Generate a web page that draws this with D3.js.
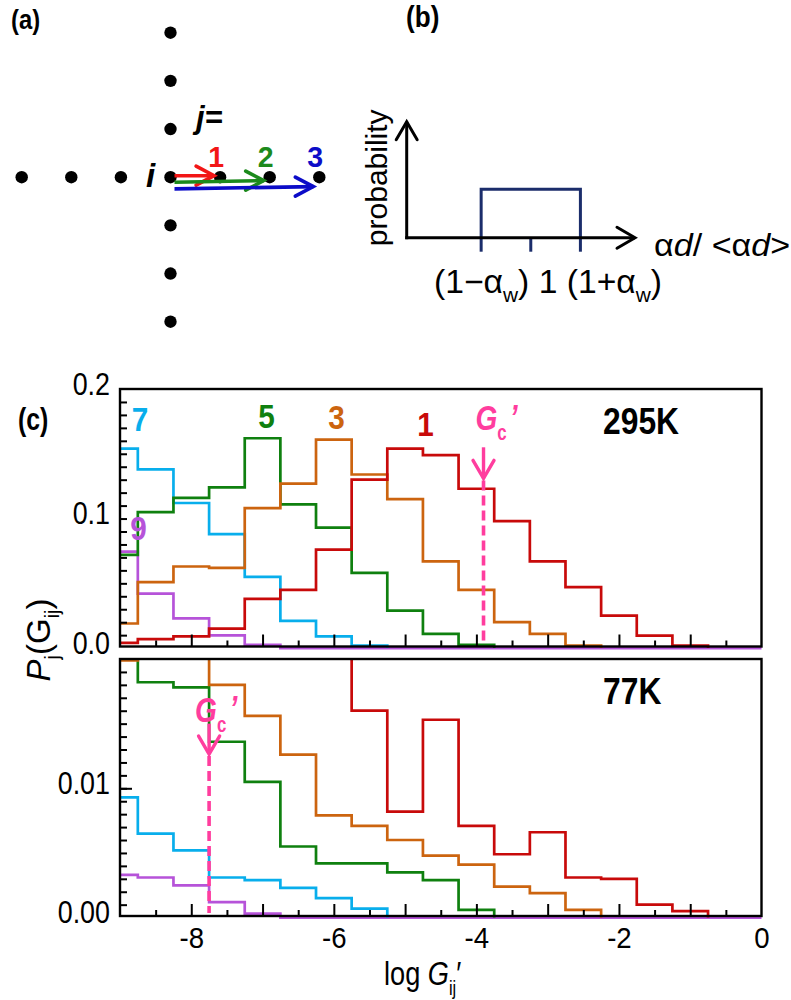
<!DOCTYPE html>
<html>
<head>
<meta charset="utf-8">
<script src="https://cdn.jsdelivr.net/npm/d3@7"></script>
<style>
  body { margin: 0; background: #fff; }
  svg text { font-family: "Liberation Sans", Arial, Helvetica, sans-serif; }
</style>
</head>
<body>
<svg id="fig" width="791" height="1000"></svg>
<script>
// ---------- data ----------
// histogram bin centres (log G'), bins are 0.5 wide
const logG = [-9, -8.5, -8, -7.5, -7, -6.5, -6, -5.5, -5, -4.5, -4, -3.5, -3, -2.5, -2, -1.5, -1, -0.5, 0];

// P_j(G_ij) at 295 K
const p295_j1 = [0.004, 0.007, 0.009, 0.015, 0.038, 0.045, 0.076, 0.130, 0.154, 0.149, 0.123, 0.098, 0.067, 0.047, 0.025, 0.0096, 0.002];
const p295_j3 = [0.019, 0.051, 0.063, 0.062, 0.108, 0.127, 0.161, 0.134, 0.115, 0.067, 0.045, 0.020, 0.011, 0.002];
const p295_j5 = [0.072, 0.105, 0.116, 0.124, 0.162, 0.111, 0.093, 0.058, 0.029, 0.011, 0.0026];
const p295_j7 = [0.154, 0.138, 0.112, 0.088, 0.055, 0.021, 0.009, 0.002];
const p295_j9 = [0.0745, 0.042, 0.023, 0.0098, 0.0026, 0, 0, 0, 0, 0, 0, 0, 0, 0, 0, 0, 0, 0, 0];

// P_j(G_ij) at 77 K (bins above 0.02 run off the top of the panel)
const p77_j1 = [0.03, 0.03, 0.03, 0.03, 0.03, 0.03, 0.025, 0.016, 0.0082, 0.0153, 0.0071, 0.0049, 0.0066, 0.0031, 0.0030, 0.0010, 0.0005];
const p77_j3 = [0.0199, 0.025, 0.025, 0.0180, 0.0156, 0.0126, 0.0079, 0.0071, 0.0060, 0.0048, 0.0041, 0.0024, 0.0019, 0.0006];
const p77_j5 = [0.025, 0.0182, 0.0178, 0.0136, 0.0105, 0.0055, 0.0042, 0.0042, 0.0035, 0.0029, 0.0006];
const p77_j7 = [0.0093, 0.0065, 0.0052, 0.0031, 0.0029, 0.0023, 0.0015, 0.0007];
const p77_j9 = [0.0033, 0.0031, 0.0025, 0.0012, 0.0003, 0, 0, 0, 0, 0, 0, 0, 0, 0, 0, 0, 0, 0, 0];

const neighbourOrder = [1, 3, 5, 7, 9];
const seriesColor = { 1: "#c80a0a", 3: "#cc640f", 5: "#0f800f", 7: "#08aeec", 9: "#b653d9" };

// cutoff conductance G_c'
const gc295 = -3.9;
const gc77 = -7.75;

// axis ticks
const xMajor = [-8, -7, -6, -5, -4, -3, -2, -1];
const xMinor = [-8.5, -7.5, -6.5, -5.5, -4.5, -3.5, -2.5, -1.5, -0.5];
const xLabels = [-8, -6, -4, -2, 0];
const yLabels295 = [0, 0.1, 0.2];
const yLabels77 = [0, 0.01];

// lattice of panel (a)
const latticeSites = [-3, -2, -1, 0, 1, 2, 3];
const shownNeighbours = [1, 2, 3];
const latticeColor = { 1: "#f21616", 2: "#1c8a1c", 3: "#0c0cc8" };

// uniform distribution of panel (b)
const alphaW = 0.4;

// ---------- helpers ----------
const svg = d3.select("#fig");
const PINK = "#ff3d9e";

function txt(parent, x, y, parts, o) {
  const g = parent.append("g")
    .attr("transform", `translate(${x},${y})` + (o.rotate ? ` rotate(${o.rotate})` : "") + ` scale(${o.sx || 1},1)`);
  const t = g.append("text")
    .attr("font-size", o.size)
    .attr("font-weight", o.weight || "normal")
    .attr("font-style", o.style || "normal")
    .attr("fill", o.fill || "#000")
    .attr("text-anchor", o.anchor || "start");
  let shift = 0;
  parts.forEach(p => {
    if (typeof p === "string") p = { t: p };
    const target = p.sub ? o.size * 0.28 : (p.up ? -o.size * 0.05 : 0);
    const ts = t.append("tspan").text(p.t).attr("dy", target - shift);
    shift = target;
    if (p.italic) ts.attr("font-style", "italic");
    if (p.upright) ts.attr("font-style", "normal");
    if (p.sub) ts.attr("font-size", o.size * (p.scale || 0.62));
    if (p.dx) ts.attr("dx", p.dx);
  });
  return t;
}

function chevron(parent, tipX, tipY, dir, len, half, color, width) {
  // open arrow head pointing along dir ("right", "up", "down")
  let pts;
  if (dir === "right") pts = [[tipX - len, tipY - half], [tipX, tipY], [tipX - len, tipY + half]];
  if (dir === "up") pts = [[tipX - half, tipY + len], [tipX, tipY], [tipX + half, tipY + len]];
  if (dir === "down") pts = [[tipX - half, tipY - len], [tipX, tipY], [tipX + half, tipY - len]];
  parent.append("path").attr("d", d3.line()(pts))
    .attr("fill", "none").attr("stroke", color).attr("stroke-width", width)
    .attr("stroke-linecap", "round").attr("stroke-linejoin", "miter");
}

// ---------- panel (a): lattice ----------
const pa = svg.append("g");
txt(pa, 11, 29, ["(a)"], { size: 28, weight: "bold", sx: 0.85 });

const lx = d3.scaleLinear([-3, 3], [21.7, 319.3]);
const ly = d3.scaleLinear([-3, 3], [32.7, 321.7]);

const sites = latticeSites.map(k => ({ x: lx(k), y: ly(0) }))
  .concat(latticeSites.filter(k => k !== 0).map(k => ({ x: lx(0), y: ly(k) })));
pa.selectAll("circle.site").data(sites).join("circle")
  .attr("class", "site").attr("cx", d => d.x).attr("cy", d => d.y).attr("r", 6.2).attr("fill", "#000");

txt(pa, 146, 186.5, ["i"], { size: 33, weight: "bold", style: "italic" });
txt(pa, 196, 128, ["j="], { size: 31, weight: "bold", style: "italic" });

const arrowRise = { 1: [-1.5, -1.5], 2: [5, 3.4], 3: [11.7, 9.4] };
shownNeighbours.forEach(j => {
  const c = latticeColor[j];
  const x0 = lx(0) + 4, x1 = lx(j) - 6;
  const y0 = ly(0) + arrowRise[j][0], y1 = ly(0) + arrowRise[j][1];
  pa.append("line").attr("x1", x0).attr("y1", y0).attr("x2", x1).attr("y2", y1)
    .attr("stroke", c).attr("stroke-width", 3.6);
  chevron(pa, x1, y1, "right", 18, 9.5, c, 3.6);
  txt(pa, lx(j) - 4, 167, [String(j)], { size: 30, weight: "bold", fill: c, anchor: "middle", sx: 0.95 });
});

// ---------- panel (b): width distribution ----------
const pb = svg.append("g");
txt(pb, 406, 27, ["(b)"], { size: 30, weight: "bold", sx: 0.87 });

const bx = d3.scaleLinear([0, 1.84], [406.7, 635]);
const by = d3.scaleLinear([0, 3], [237.7, 121.7]);
const density = 1 / (2 * alphaW);

pb.append("path")
  .attr("d", `M${bx(1 - alphaW)},${by(0)}V${by(density)}H${bx(1 + alphaW)}V${by(0)}`)
  .attr("fill", "none").attr("stroke", "#1b2d6b").attr("stroke-width", 3);
pb.selectAll("line.btick").data([1 - alphaW, 1, 1 + alphaW]).join("line")
  .attr("class", "btick")
  .attr("x1", d => bx(d)).attr("x2", d => bx(d))
  .attr("y1", by(0)).attr("y2", by(0) + 14)
  .attr("stroke", "#1b2d6b").attr("stroke-width", 3);

pb.append("line").attr("x1", bx(0)).attr("y1", by(0) + 1.5).attr("x2", bx(0)).attr("y2", by(3))
  .attr("stroke", "#000").attr("stroke-width", 3);
chevron(pb, bx(0), by(3), "up", 18, 10.5, "#000", 3);
pb.append("line").attr("x1", bx(0) - 1.5).attr("y1", by(0)).attr("x2", bx(1.84)).attr("y2", by(0))
  .attr("stroke", "#000").attr("stroke-width", 3);
chevron(pb, bx(1.84), by(0), "right", 18, 10.5, "#000", 3);

txt(pb, 386.5, by(1.55), ["probability"], { size: 30, anchor: "middle", rotate: -90 });
txt(pb, 654, 256, ["α", { t: "d", italic: true }, "/ <α", { t: "d", italic: true }, ">"], { size: 31, sx: 1.1 });
txt(pb, 434, 293, ["(1−α", { t: "w", sub: true }, ")", " 1 (1+α", { t: "w", sub: true }, ")"], { size: 33, sx: 1.02 });

// ---------- panel (c): histograms ----------
const L = 120, R = 761.5;
const x = d3.scaleLinear([-9, 0], [L, R]);
const panels = [
  { top: 389, bottom: 646.5, max: 0.2, minorStep: 0.01, labels: yLabels295, fmt: d3.format(".1f"),
    series: { 1: p295_j1, 3: p295_j3, 5: p295_j5, 7: p295_j7, 9: p295_j9 }, temp: "295K", gc: gc295,
    longY: [], tipV: 0.131, tailV: 0.155, labelDx: -8, labelLift: 17 },
  { top: 659, bottom: 916, max: 0.02, minorStep: 0.001, labels: yLabels77, fmt: d3.format(".2f"),
    series: { 1: p77_j1, 3: p77_j3, 5: p77_j5, 7: p77_j7, 9: p77_j9 }, temp: "77K", gc: gc77,
    longY: [0.01], tipV: 0.01265, tailV: 0.0150, labelDx: -14, labelLift: 2 }
];

function stepPoints(vals) {
  const pts = vals.map((v, k) => [Math.max(logG[k] - 0.25, -9), v]);
  pts.push([Math.min(logG[vals.length - 1] + 0.25, 0), 0]);
  return pts;
}

panels.forEach((P, i) => {
  const g = svg.append("g");
  const y = d3.scaleLinear([0, P.max], [P.bottom + 1.6, P.top]);
  const clipId = "clip" + i;
  svg.append("clipPath").attr("id", clipId).append("rect")
    .attr("x", L).attr("y", P.top).attr("width", R - L + 2).attr("height", P.bottom - P.top + 4);

  // histogram steps
  const line = d3.line().x(d => x(d[0])).y(d => y(d[1])).curve(d3.curveStepAfter);
  const order = [9, 7, 5, 3, 1];
  g.append("g").attr("clip-path", `url(#${clipId})`)
    .selectAll("path").data(order).join("path")
    .attr("d", j => line(stepPoints(P.series[j])))
    .attr("fill", "none").attr("stroke", j => seriesColor[j])
    .attr("stroke-width", 2.7).attr("stroke-linejoin", "miter");

  // frame
  g.append("rect").attr("x", L).attr("y", P.top).attr("width", R - L).attr("height", P.bottom - P.top)
    .attr("fill", "none").attr("stroke", "#000").attr("stroke-width", 2.4);

  // inward x ticks
  const xb = g.append("g").attr("transform", `translate(0,${P.bottom})`);
  xb.call(d3.axisBottom(x).tickValues(xMajor).tickSize(-12).tickSizeOuter(0).tickFormat(""));
  xb.append("g").call(d3.axisBottom(x).tickValues(xMinor).tickSize(-6).tickSizeOuter(0).tickFormat(""));
  xb.selectAll(".domain").remove();
  xb.selectAll(".tick line").attr("stroke", "#000").attr("stroke-width", 2);

  // inward y ticks
  const minor = d3.range(1, Math.round(P.max / P.minorStep)).map(k => k * P.minorStep);
  const yl = g.append("g").attr("transform", `translate(${L},0)`);
  yl.call(d3.axisLeft(y).tickValues(minor).tickSize(-7).tickSizeOuter(0).tickFormat(""));
  if (P.longY.length) yl.append("g").call(d3.axisLeft(y).tickValues(P.longY).tickSize(-12).tickSizeOuter(0).tickFormat(""));
  yl.selectAll(".domain").remove();
  yl.selectAll(".tick line").attr("stroke", "#000").attr("stroke-width", 2);

  // y labels
  const ylab = g.append("g").attr("transform", `translate(${L},0)`)
    .call(d3.axisLeft(y).tickValues(P.labels).tickSize(0).tickPadding(0).tickFormat(P.fmt));
  ylab.select(".domain").remove();
  ylab.selectAll("text")
    .attr("x", -10 / 0.84).attr("dy", "0.16em")
    .attr("transform", "scale(0.84,1)")
    .attr("font-size", 32).attr("font-family", null).attr("fill", "#000");

  // temperature tag
  txt(g, 603, P.top + 44.5, [P.temp], { size: 37, weight: "bold", sx: 0.86 });

  // G_c' marker
  const gx = x(P.gc);
  g.append("line").attr("x1", gx).attr("x2", gx).attr("y1", y(P.tipV) + 2).attr("y2", P.bottom - 3)
    .attr("stroke", PINK).attr("stroke-width", 3.6).attr("stroke-dasharray", "10,5");
  g.append("line").attr("x1", gx).attr("x2", gx).attr("y1", y(P.tailV)).attr("y2", y(P.tipV))
    .attr("stroke", PINK).attr("stroke-width", 3.4);
  chevron(g, gx, y(P.tipV), "down", 18, 10.5, PINK, 3.4);
  txt(g, gx + P.labelDx, y(P.tailV) - P.labelLift,
      [{ t: "G" }, { t: "c", sub: true, scale: 0.6, upright: true }, { t: "’", up: true, dx: 4 }],
      { size: 36, weight: "bold", style: "italic", fill: PINK, sx: 0.78 });
});

// x tick labels under the lower panel
const xl = svg.append("g").attr("transform", `translate(0,916)`)
  .call(d3.axisBottom(x).tickValues(xLabels).tickSize(0).tickPadding(11).tickFormat(d => String(d)));
xl.select(".domain").remove();
xl.selectAll("text").attr("font-size", 30).attr("font-family", null).attr("fill", "#000")
  .attr("transform", "scale(0.92,1)");

// series labels
const pc = svg.append("g");
txt(pc, 18, 430, ["(c)"], { size: 31, weight: "bold", sx: 0.8 });
const labelPos = { 7: [140, 431], 5: [266.5, 428], 3: [336.5, 429], 1: [425.5, 436], 9: [138.5, 540] };
neighbourOrder.forEach(j => {
  txt(pc, labelPos[j][0], labelPos[j][1], [String(j)], { size: 33, weight: "bold", fill: seriesColor[j], anchor: "middle", sx: 0.9 });
});

// axis titles
txt(svg, 384, 985, ["log ", { t: "G", italic: true }, { t: "ij", sub: true, scale: 0.6 }, "′"], { size: 34, sx: 0.8 });
txt(svg, 50, 640, [{ t: "P", italic: true }, { t: "j", sub: true, scale: 0.6 }, "(G", { t: "ij", sub: true, scale: 0.6 }, ")"],
    { size: 33, anchor: "middle", rotate: -90, sx: 1 });
</script>
</body>
</html>
